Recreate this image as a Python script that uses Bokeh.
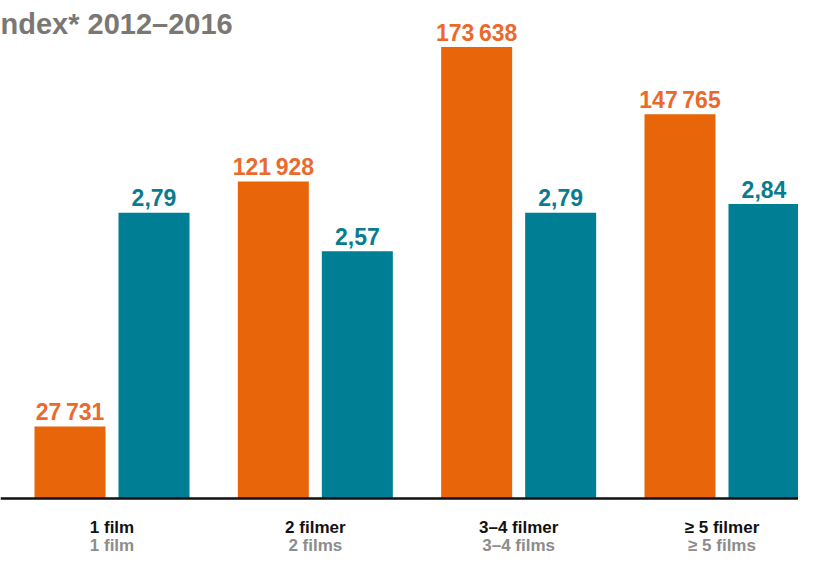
from bokeh.plotting import figure
from bokeh.models import Range1d, Span, Label, ColumnDataSource
from bokeh.transform import dodge
from bokeh.core.properties import value
from bokeh.embed import file_html
from bokeh.resources import INLINE

# ---- data ----
categories_no = ["1 film", "2 filmer", "3–4 filmer", "≥ 5 filmer"]
categories_en = ["1 film", "2 films", "3–4 films", "≥ 5 films"]
admissions = [27731, 121928, 173638, 147765]
index_values = [2.79, 2.57, 2.79, 2.84]
title_text = "ndex* 2012–2016"

# ---- layout / style ----
W, H = 798, 555
GROUP_PX = 203.33
FIRST_PX = 111.5
ZERO_FROM_TOP = 498
ORANGE_PER_PX = 384.5
TEAL_PX_PER_UNIT = 175.4
TEAL_BASE = 1.161
BAR_W = 71 / GROUP_PX
OFF = 42 / GROUP_PX

ORANGE = "#E8650A"
ORANGE_TXT = "#EA6A2E"
TEAL = "#007E93"
TEAL_TXT = "#0A7C8E"
FONT = "Liberation Sans"

x_start = -FIRST_PX / GROUP_PX
x_end = x_start + W / GROUP_PX
y_start = -(H - ZERO_FROM_TOP) * ORANGE_PER_PX
y_end = ZERO_FROM_TOP * ORANGE_PER_PX
t_start = TEAL_BASE - (H - ZERO_FROM_TOP) / TEAL_PX_PER_UNIT
t_end = TEAL_BASE + ZERO_FROM_TOP / TEAL_PX_PER_UNIT

p = figure(width=W, height=H, x_range=Range1d(x_start, x_end),
           y_range=Range1d(y_start, y_end), output_backend="svg",
           toolbar_location=None, x_axis_location=None, y_axis_location=None,
           min_border=0, outline_line_color=None)
p.extra_y_ranges = {"teal": Range1d(t_start, t_end)}
p.grid.visible = False

src = ColumnDataSource(dict(
    x=list(range(len(categories_no))),
    adm=admissions,
    idx=index_values,
    adm_lbl=[f"{v:,}".replace(",", "\u2009") for v in admissions],
    idx_lbl=[f"{v:.2f}".replace(".", ",") for v in index_values],
    cat_no=categories_no,
    cat_en=categories_en,
    zero=[0] * len(categories_no),
))

p.vbar(x=dodge("x", -OFF), top="adm", bottom=0, width=BAR_W, source=src,
       fill_color=ORANGE, line_color=None)
p.vbar(x=dodge("x", OFF), top="idx", bottom=TEAL_BASE, width=BAR_W, source=src,
       fill_color=TEAL, line_color=None, y_range_name="teal")

p.text(x=dodge("x", -OFF), y="adm", text="adm_lbl", source=src,
       text_align="center", text_baseline="alphabetic", y_offset=-14,
       text_font=value(FONT), text_font_style="bold", text_font_size="23px",
       text_color=ORANGE_TXT)
p.text(x=dodge("x", OFF), y="idx", text="idx_lbl", source=src,
       text_align="center", text_baseline="alphabetic", y_offset=-15,
       text_font=value(FONT), text_font_style="bold", text_font_size="23px",
       text_color=TEAL_TXT, y_range_name="teal")

p.text(x="x", y="zero", text="cat_no", source=src,
       text_align="center", text_baseline="alphabetic", y_offset=29,
       text_font=value(FONT), text_font_style="bold", text_font_size="17px",
       text_color="#111111")
p.text(x="x", y="zero", text="cat_en", source=src,
       text_align="center", text_baseline="alphabetic", y_offset=47,
       text_font=value(FONT), text_font_style="bold", text_font_size="17px",
       text_color="#8C8C8C")

p.add_layout(Span(location=0, dimension="width", line_color="#111111",
                  line_width=2.5))

p.add_layout(Label(x=x_start, y=y_end - 23 * ORANGE_PER_PX, text=title_text,
                   text_font=FONT, text_font_style="bold", text_font_size="29px",
                   text_color="#7B7773", text_align="left",
                   text_baseline="alphabetic"))

open("out.html", "w").write(file_html(p, INLINE))
